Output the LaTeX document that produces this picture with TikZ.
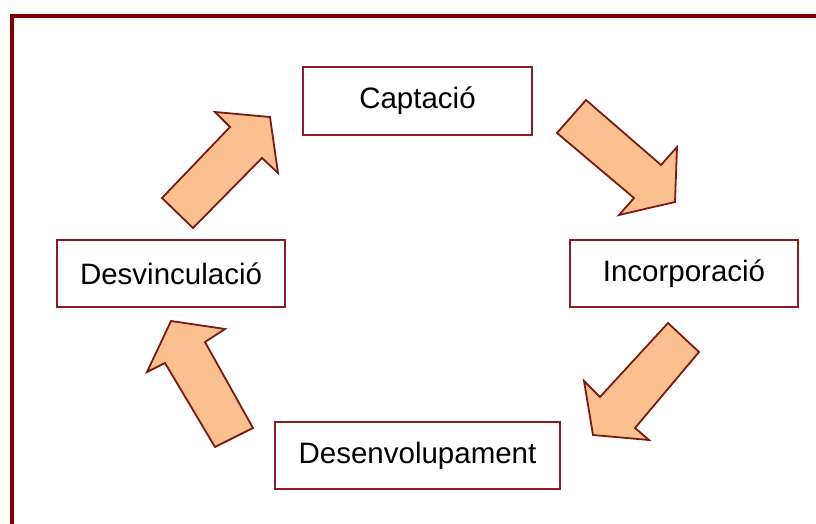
\documentclass[tikz,border=0pt]{standalone}
\usepackage{fontspec}
\setmainfont{Liberation Sans}
\definecolor{framered}{HTML}{800000}
\definecolor{boxred}{HTML}{8B1E24}
\definecolor{peach}{HTML}{FAC090}
\definecolor{arrowline}{HTML}{7A1A12}
\begin{document}
\begin{tikzpicture}[x=1pt,y=-1pt,
  stage/.style={draw=boxred,line width=2pt,fill=white,inner sep=0pt,
    font=\fontsize{29.5}{33}\selectfont},
  blockarrow/.style={draw=arrowline,fill=peach,line width=1.8pt,line join=miter}]
\useasboundingbox (0,0) rectangle (816,524);
\clip (0,0) rectangle (816,524);
\fill[white] (0,0) rectangle (816,524);
\draw[framered,line width=4pt] (12,16) rectangle (900,700);
\node[stage,minimum width=229pt,minimum height=68pt] (capt) at (417.5,101) {Captació};
\node[stage,minimum width=228pt,minimum height=67pt] (desv) at (171,273.5) {Desvinculació};
\node[stage,minimum width=228pt,minimum height=67pt] (inc) at (684,273.5) {Incorporació};
\node[stage,minimum width=285pt,minimum height=67pt] (des) at (417.5,455.5) {Desenvolupament};
% Desvinculacio -> Captacio
\draw[blockarrow] (162,198) -- (230,127) -- (215,112) -- (270,117) -- (278,173) -- (262,158) -- (193,228) -- cycle;
% Captacio -> Incorporacio
\draw[blockarrow] (586,100) -- (661,165) -- (677,147) -- (675,202) -- (619,215) -- (634,198) -- (557,133) -- cycle;
% Incorporacio -> Desenvolupament
\draw[blockarrow] (699,352) -- (635,428) -- (649,440) -- (593,435) -- (584,381) -- (600,397) -- (668,323) -- cycle;
% Desenvolupament -> Desvinculacio
\draw[blockarrow] (215,447) -- (165,363) -- (147,372) -- (171,321) -- (225,329) -- (205,342) -- (253,428) -- cycle;
\end{tikzpicture}
\end{document}
